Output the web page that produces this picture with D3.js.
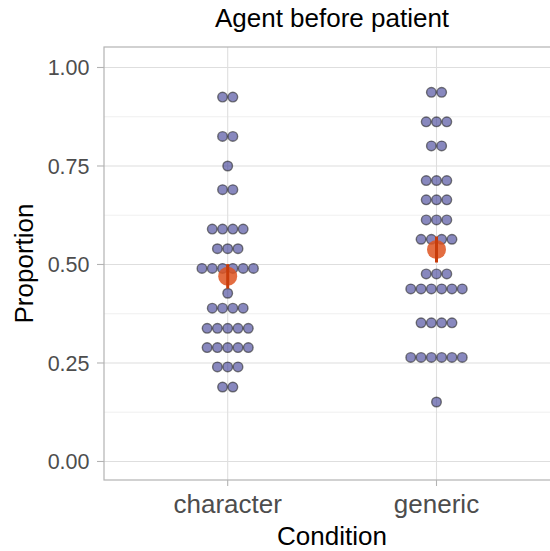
<!DOCTYPE html>
<html>
<head>
<meta charset="utf-8">
<script src="https://cdn.jsdelivr.net/npm/d3@7"></script>
<style>
  html, body { margin: 0; padding: 0; background: #fff; }
  svg { display: block; font-family: "Liberation Sans", Arial, sans-serif; }
</style>
</head>
<body>
<svg id="chart" width="550" height="551"></svg>
<script>
// ---- data ----
const categories = ["character", "generic"];
const characterValues = [
  0.925, 0.925, 0.825, 0.825, 0.75, 0.69, 0.69,
  0.59, 0.59, 0.59, 0.59, 0.54, 0.54, 0.54,
  0.49, 0.49, 0.49, 0.49, 0.49, 0.49, 0.427,
  0.389, 0.389, 0.389, 0.389, 0.338, 0.338, 0.338, 0.338, 0.338,
  0.289, 0.289, 0.289, 0.289, 0.289, 0.24, 0.24, 0.24, 0.189, 0.189
];
const genericValues = [
  0.937, 0.937, 0.862, 0.862, 0.862, 0.801, 0.801,
  0.713, 0.713, 0.713, 0.664, 0.664, 0.664, 0.613, 0.613, 0.613,
  0.564, 0.564, 0.564, 0.564, 0.476, 0.476, 0.476,
  0.438, 0.438, 0.438, 0.438, 0.438, 0.438,
  0.352, 0.352, 0.352, 0.352,
  0.264, 0.264, 0.264, 0.264, 0.264, 0.264, 0.151
];
const meanValues = [0.47, 0.538];
const seValues = [0.031, 0.033];
const yTicks = [0, 0.25, 0.5, 0.75, 1.0];
const yMinorTicks = [0.125, 0.375, 0.625, 0.875];
const titleText = "Agent before patient";
const xTitle = "Condition";
const yTitle = "Proportion";

// ---- layout ----
const svg = d3.select("#chart");
const panel = { left: 104, top: 47, right: 560, bottom: 480 };

const y = d3.scaleLinear().domain([-0.047, 1.052]).range([panel.bottom, panel.top]);
const x = d3.scalePoint().domain(categories).range([227.7, 436.5]);

const dotR = 5.15;

// panel background gridlines
const g = svg.append("g");
g.selectAll(".minor").data(yMinorTicks).enter().append("line")
  .attr("x1", panel.left).attr("x2", panel.right)
  .attr("y1", d => y(d)).attr("y2", d => y(d))
  .attr("stroke", "#EBEBEB").attr("stroke-width", 0.8);
g.selectAll(".major").data(yTicks).enter().append("line")
  .attr("x1", panel.left).attr("x2", panel.right)
  .attr("y1", d => y(d)).attr("y2", d => y(d))
  .attr("stroke", "#DEDEDE").attr("stroke-width", 1.1);
g.selectAll(".vmajor").data(categories).enter().append("line")
  .attr("x1", d => x(d)).attr("x2", d => x(d))
  .attr("y1", panel.top).attr("y2", panel.bottom)
  .attr("stroke", "#DEDEDE").attr("stroke-width", 1.1);

// dots
const seriesList = [characterValues, genericValues];
seriesList.forEach((vals, i) => {
  const groups = d3.groups(vals, v => v);
  const pts = [];
  groups.forEach(([v, arr]) => {
    const n = arr.length;
    arr.forEach((_, k) => {
      pts.push({ v, off: (k - (n - 1) / 2) * 2 * dotR });
    });
  });
  svg.append("g").selectAll("circle").data(pts).enter().append("circle")
    .attr("cx", d => x(categories[i]) + d.off)
    .attr("cy", d => y(d.v))
    .attr("r", dotR - 0.35)
    .attr("fill", "rgb(57,57,147)").attr("fill-opacity", 0.6)
    .attr("stroke", "rgb(40,40,40)").attr("stroke-opacity", 0.6)
    .attr("stroke-width", 1.4);
});

// means with error bars
categories.forEach((c, i) => {
  svg.append("circle")
    .attr("cx", x(c)).attr("cy", y(meanValues[i])).attr("r", 9.5)
    .attr("fill", "rgb(222,84,32)").attr("fill-opacity", 0.85);
  svg.append("line")
    .attr("x1", x(c)).attr("x2", x(c))
    .attr("y1", y(meanValues[i] + seValues[i])).attr("y2", y(meanValues[i] - seValues[i]))
    .attr("stroke", "rgb(200,60,10)").attr("stroke-width", 3);
});

// panel border
svg.append("rect")
  .attr("x", panel.left).attr("y", panel.top)
  .attr("width", panel.right - panel.left).attr("height", panel.bottom - panel.top)
  .attr("fill", "none").attr("stroke", "#B3B3B3").attr("stroke-width", 1.2);

// y axis ticks & labels
const yAxisG = svg.append("g");
yAxisG.selectAll("line").data(yTicks).enter().append("line")
  .attr("x1", panel.left - 7).attr("x2", panel.left)
  .attr("y1", d => y(d)).attr("y2", d => y(d))
  .attr("stroke", "#B3B3B3").attr("stroke-width", 1.1);
yAxisG.selectAll("text").data(yTicks).enter().append("text")
  .attr("x", 89.5).attr("y", d => y(d))
  .attr("dy", "0.36em")
  .attr("text-anchor", "end")
  .attr("font-size", 21.5).attr("fill", "#4D4D4D")
  .text(d => d3.format(".2f")(d));

// x axis ticks & labels
const xAxisG = svg.append("g");
xAxisG.selectAll("line").data(categories).enter().append("line")
  .attr("x1", d => x(d)).attr("x2", d => x(d))
  .attr("y1", panel.bottom).attr("y2", panel.bottom + 6)
  .attr("stroke", "#B3B3B3").attr("stroke-width", 1.1);
xAxisG.selectAll("text").data(categories).enter().append("text")
  .attr("x", d => x(d)).attr("y", 513)
  .attr("text-anchor", "middle")
  .attr("font-size", 26).attr("fill", "#4D4D4D")
  .text(d => d);

// titles
svg.append("text")
  .attr("x", (panel.left + panel.right) / 2).attr("y", 545)
  .attr("text-anchor", "middle").attr("font-size", 26).attr("fill", "#000")
  .text(xTitle);
svg.append("text")
  .attr("transform", `translate(33, ${(panel.top + panel.bottom) / 2}) rotate(-90)`)
  .attr("text-anchor", "middle").attr("font-size", 26).attr("fill", "#000")
  .text(yTitle);
svg.append("text")
  .attr("x", (panel.left + panel.right) / 2).attr("y", 27)
  .attr("text-anchor", "middle").attr("font-size", 26).attr("fill", "#000")
  .text(titleText);
</script>
</body>
</html>
